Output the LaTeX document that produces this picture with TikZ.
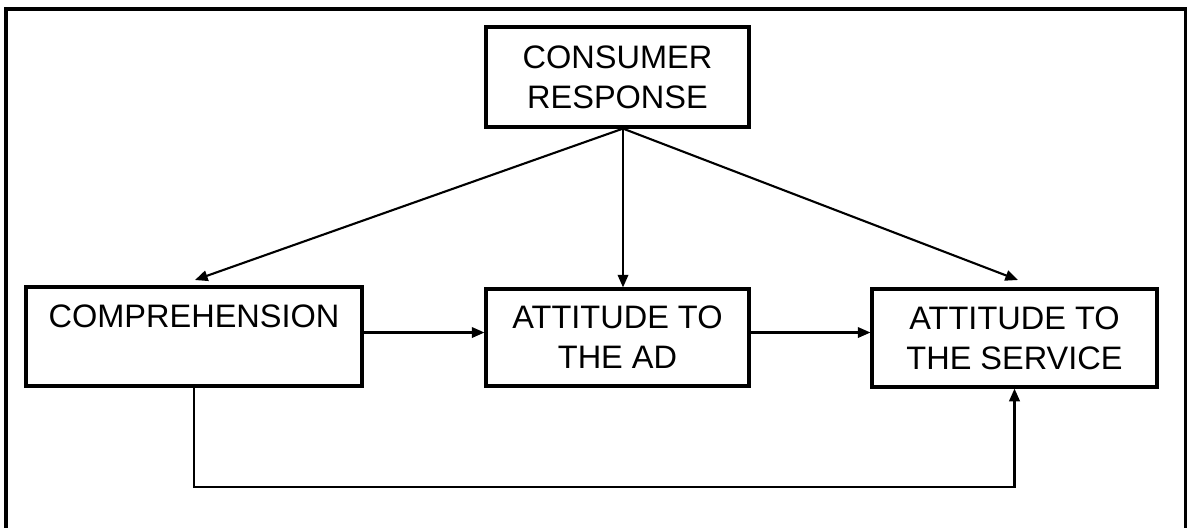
\documentclass[tikz,border=0pt]{standalone}
\usepackage{fontspec}
\setmainfont{Liberation Sans}
\usetikzlibrary{arrows.meta}

\begin{document}
\begin{tikzpicture}[
    box/.style={draw,line width=0.9pt,align=center,inner sep=0pt,
        font=\fontsize{9.25pt}{11.4pt}\selectfont},
    arr/.style={line width=0.6pt,-{Triangle[length=3.6pt,width=3pt]}}]

    \useasboundingbox (0,0) rectangle (11.87,5.27);
    \draw[line width=1.2pt] (0.06,-0.3) rectangle (11.86,5.18);

    % Nodes
    \node[box,minimum width=2.63cm,minimum height=1.00cm] (resp) at (6.175,4.50) {CONSUMER\\RESPONSE};
    \node[box,minimum width=3.36cm,minimum height=0.99cm] (comp) at (1.94,1.905) {COMPREHENSION\\[0pt]\mbox{}};
    \node[box,minimum width=2.63cm,minimum height=0.97cm] (ad) at (6.175,1.895) {ATTITUDE TO\\THE AD};
    \node[box,minimum width=2.85cm,minimum height=0.98cm] (serv) at (10.145,1.89) {ATTITUDE TO\\THE SERVICE};

    \coordinate (src) at ([xshift=0.055cm]resp.south);
    \coordinate (tl) at (1.95,2.47);
    \coordinate (tr) at (10.18,2.47);
    \coordinate (low) at (1.94,0.40);

    % Edges
    \draw[arr] (src) -- (tl);
    \draw[arr] (src) -- (src |- ad.north);
    \draw[arr] (src) -- (tr);
    \draw[arr] ([yshift=0.04cm]comp.east) -- ([yshift=0.04cm]comp.east -| ad.west);
    \draw[arr] ([yshift=0.05cm]ad.east) -- ([yshift=0.05cm]ad.east -| serv.west);
    \draw[arr] (comp.south) -- (low) -| (serv.south);

\end{tikzpicture}
\end{document}
